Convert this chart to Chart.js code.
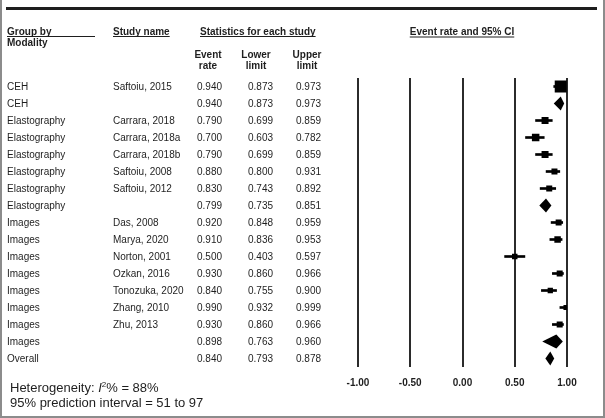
<!DOCTYPE html>
<html>
<head>
<meta charset="utf-8">
<title>Event rate forest plot</title>
<script src="https://cdn.jsdelivr.net/npm/chart.js@4.4.1/dist/chart.umd.min.js"></script>
<style>
  html, body { margin: 0; padding: 0; background: #fff; }
  #wrap  { position: relative; width: 605px; height: 418px; }
  #frame {
    position: absolute; left: 0; top: 0; width: 605px; height: 418px;
    box-sizing: border-box; border: 2px solid #8c8c8c; border-top: none;
    pointer-events: none;
  }
</style>
</head>
<body>
<div id="wrap">
  <canvas id="forest" width="605" height="418"></canvas>
  <div id="frame"></div>
</div>
<script>
// ---- data ----
const groups = [
  'CEH', 'CEH',
  'Elastography', 'Elastography', 'Elastography', 'Elastography', 'Elastography', 'Elastography',
  'Images', 'Images', 'Images', 'Images', 'Images', 'Images', 'Images', 'Images',
  'Overall',
];
// '' marks a pooled (summary) row
const studies = [
  'Saftoiu, 2015', '',
  'Carrara, 2018', 'Carrara, 2018a', 'Carrara, 2018b', 'Saftoiu, 2008', 'Saftoiu, 2012', '',
  'Das, 2008', 'Marya, 2020', 'Norton, 2001', 'Ozkan, 2016', 'Tonozuka, 2020', 'Zhang, 2010', 'Zhu, 2013', '',
  '',
];
const eventRate = [0.940, 0.940, 0.790, 0.700, 0.790, 0.880, 0.830, 0.799, 0.920, 0.910, 0.500, 0.930, 0.840, 0.990, 0.930, 0.898, 0.840];
const lowerCI   = [0.873, 0.873, 0.699, 0.603, 0.699, 0.800, 0.743, 0.735, 0.848, 0.836, 0.403, 0.860, 0.755, 0.932, 0.860, 0.763, 0.793];
const upperCI   = [0.973, 0.973, 0.859, 0.782, 0.859, 0.931, 0.892, 0.851, 0.959, 0.953, 0.597, 0.966, 0.900, 0.999, 0.966, 0.960, 0.878];
// relative study weights (box area), null for pooled rows
const weights   = [144, null, 49, 56, 49, 36, 36, null, 36, 42, 30, 36, 28, 25, 36, null, null];

const xTickValues = [-1, -0.5, 0, 0.5, 1];
const heterogeneityI2 = 88;
const predInterval = [51, 97];

// ---- helpers ----
const FONT = 'Arial, "Liberation Sans", sans-serif';
const INK  = '#1e1e1e';
const rowKeys = groups.map((_, i) => 'row' + i);
const isPooled = i => studies[i] === '';

const ciBars = rowKeys.map((_, i) => isPooled(i) ? null : [lowerCI[i], upperCI[i]]);
const boxes  = rowKeys
  .map((k, i) => ({ x: eventRate[i], y: k, i }))
  .filter(p => !isPooled(p.i));
const boxRadius = boxes.map(p => Math.sqrt(weights[p.i]) / Math.SQRT2);

// pooled estimates as diamonds spanning the CI
const diamondPlugin = {
  id: 'diamonds',
  afterDatasetsDraw(chart) {
    const { ctx, scales: { x, y } } = chart;
    ctx.save();
    ctx.fillStyle = '#000';
    rowKeys.forEach((_, i) => {
      if (!isPooled(i)) return;
      const yc = y.getPixelForValue(i);
      const xl = x.getPixelForValue(lowerCI[i]);
      const xm = x.getPixelForValue(eventRate[i]);
      const xr = x.getPixelForValue(upperCI[i]);
      ctx.beginPath();
      ctx.moveTo(xl, yc);
      ctx.lineTo(xm, yc - 7);
      ctx.lineTo(xr, yc);
      ctx.lineTo(xm, yc + 7);
      ctx.closePath();
      ctx.fill();
    });
    ctx.restore();
  }
};

// left-hand table, headers and footnote
const tablePlugin = {
  id: 'forestTable',
  afterDraw(chart) {
    const { ctx, scales: { y } } = chart;
    ctx.save();
    ctx.fillStyle = INK;
    ctx.fillRect(6, 7, 591, 3);   // top rule

    const ul = (x, w, yy) => ctx.fillRect(x, yy, w, 1);
    ctx.font = `bold 10px ${FONT}`;
    ctx.textBaseline = 'alphabetic';
    ctx.textAlign = 'left';
    ctx.fillText('Group by', 7, 34.5);
    ul(7, 88, 36);
    ctx.fillText('Modality', 7, 46);
    ctx.fillText('Study name', 113, 34.5);
    ul(113, ctx.measureText('Study name').width, 36);
    ctx.fillText('Statistics for each study', 200, 34.5);
    ul(200, ctx.measureText('Statistics for each study').width, 36);

    ctx.textAlign = 'center';
    [['Event', 'rate', 208], ['Lower', 'limit', 256], ['Upper', 'limit', 307]].forEach(([a, b, cx]) => {
      ctx.fillText(a, cx, 57.5);
      ctx.fillText(b, cx, 69);
    });
    const ciTitle = 'Event rate and 95% CI';
    ctx.fillText(ciTitle, 462, 34.5);
    const tw = ctx.measureText(ciTitle).width;
    ul(462 - tw / 2, tw, 36.5);

    // rows
    ctx.font = `10px ${FONT}`;
    ctx.textBaseline = 'middle';
    rowKeys.forEach((_, i) => {
      const yc = y.getPixelForValue(i) + 0.5;
      ctx.textAlign = 'left';
      ctx.fillText(groups[i], 7, yc);
      ctx.fillText(studies[i], 113, yc);
      ctx.textAlign = 'right';
      ctx.fillText(eventRate[i].toFixed(3), 222, yc);
      ctx.fillText(lowerCI[i].toFixed(3), 273, yc);
      ctx.fillText(upperCI[i].toFixed(3), 321, yc);
    });

    // footnote
    ctx.textAlign = 'left';
    ctx.textBaseline = 'alphabetic';
    let x0 = 10;
    const part = (txt, font, base) => {
      ctx.font = font;
      ctx.fillText(txt, x0, base);
      x0 += ctx.measureText(txt).width;
    };
    part('Heterogeneity: ', `13px ${FONT}`, 392);
    part('I', `italic 13px ${FONT}`, 392);
    part('2', `8px ${FONT}`, 387);
    part(`% = ${heterogeneityI2}%`, `13px ${FONT}`, 392);
    ctx.font = `13px ${FONT}`;
    ctx.fillText(`95% prediction interval = ${predInterval[0]} to ${predInterval[1]}`, 10, 407);
    ctx.restore();
  }
};

new Chart(document.getElementById('forest'), {
  type: 'bar',
  data: {
    labels: rowKeys,
    datasets: [
      {
        type: 'scatter',
        data: boxes,
        pointStyle: 'rect',
        pointRadius: boxRadius,
        pointBorderWidth: 0,
        backgroundColor: '#000',
        borderWidth: 0,
        order: 0,
      },
      {
        type: 'bar',
        data: ciBars,
        backgroundColor: '#000',
        barThickness: 2,
        borderWidth: 0,
        grouped: false,
        order: 1,
      },
    ],
  },
  options: {
    indexAxis: 'y',
    responsive: false,
    animation: false,
    devicePixelRatio: 1,
    layout: { padding: { left: 358, right: 38, top: 78, bottom: 21 } },
    plugins: { legend: { display: false }, tooltip: { enabled: false } },
    scales: {
      y: { type: 'category', display: false, offset: true },
      x: {
        type: 'linear',
        position: 'bottom',
        min: -1,
        max: 1,
        afterBuildTicks: s => { s.ticks = xTickValues.map(v => ({ value: v })); },
        afterFit: s => { s.height = 30; },
        grid: { color: '#2b2b2b', lineWidth: 2, drawTicks: false },
        border: { display: false },
        ticks: {
          padding: 10,
          color: INK,
          font: { family: FONT, size: 10, weight: 'bold' },
          callback: v => v.toFixed(2),
        },
      },
    },
  },
  plugins: [diamondPlugin, tablePlugin],
});
</script>
</body>
</html>
